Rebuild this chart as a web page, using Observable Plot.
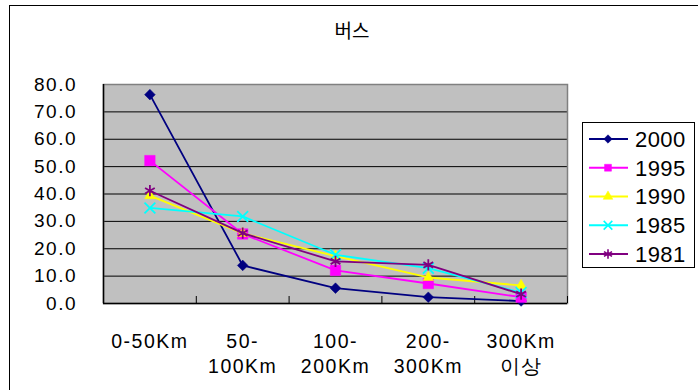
<!DOCTYPE html>
<html>
<head>
<meta charset="utf-8">
<script src="https://cdn.jsdelivr.net/npm/d3@7"></script>
<script src="https://cdn.jsdelivr.net/npm/@observablehq/plot@0.6"></script>
<style>
  html, body { margin: 0; padding: 0; background: #fff; overflow: hidden; }
  #wrap { position: relative; width: 698px; height: 390px; overflow: hidden; }
  #border { position: absolute; left: 9px; top: 5px; width: 720px; height: 420px; border: 1px solid #000; box-sizing: border-box; }
  #title { position: absolute; left: 252px; width: 200px; top: 16px; text-align: center;
           font-family: "Noto Sans CJK KR", sans-serif; font-size: 19px; line-height: 28px; color: #000; }
  #chart { position: absolute; left: 0; top: 0; }
  #chart svg text { letter-spacing: 1.5px; }
  #legend { position: absolute; left: 582px; top: 122px; width: 113px; height: 146px; box-sizing: border-box;
            border: 1px solid #000; background: #fff; }
</style>
</head>
<body>
<div id="wrap">
  <div id="border"></div>
  <div id="chart"></div>
  <div id="title">버스</div>
  <div id="legend"></div>
</div>
<script>
// ---- data ----
const categories = ["0-50Km", "50-100Km", "100-200Km", "200-300Km", "300Km 이상"];
const tickLabels = ["0-50Km", "50-\n100Km", "100-\n200Km", "200-\n300Km", "300Km\n이상"];
const years = ["2000", "1995", "1990", "1985", "1981"];
const v2000 = [76.3, 13.9, 5.6, 2.3, 0.9];
const v1995 = [52.2, 25.4, 12.1, 7.3, 2.3];
const v1990 = [39.4, 25.6, 17.3, 9.5, 6.6];
const v1985 = [34.9, 31.8, 17.8, 12.9, 4.0];
const v1981 = [41.2, 25.7, 15.4, 14.1, 3.4];
const yTicks = [0, 10, 20, 30, 40, 50, 60, 70, 80];

// ---- styles ----
const colors = ["#000080", "#FF00FF", "#FFFF00", "#00FFFF", "#800080"];
const symbols = ["diamond2", "square", "triangle", "times", "asterisk"];
const filled = [true, true, true, false, false];
const radii = [4.8, 5.9, 3.9, 5.0, 5.3];

const seriesValues = [v2000, v1995, v1990, v1985, v1981];
const idx = categories.map((_, i) => i);
const rows = years.flatMap((yr, s) => seriesValues[s].map((v, i) => ({year: yr, s, i, cat: categories[i], v})));
const bounds = idx.map(i => i + 0.5);

const seriesMarks = years.flatMap((yr, s) => {
  const d = rows.filter(r => r.s === s);
  return [
    Plot.line(d, {x: "i", y: "v", stroke: colors[s], strokeWidth: 1.8}),
    Plot.dot(d, filled[s]
      ? {x: "i", y: "v", symbol: symbols[s], r: radii[s], fill: colors[s], stroke: colors[s], strokeWidth: 0.5}
      : {x: "i", y: "v", symbol: symbols[s], r: radii[s], fill: "none", stroke: colors[s], strokeWidth: 1.8})
  ];
});

const chart = Plot.plot({
  width: 698,
  height: 390,
  marginLeft: 103,
  marginRight: 131,
  marginTop: 84,
  marginBottom: 87,
  style: {fontFamily: "'Liberation Sans', Arial, sans-serif", fontSize: "19px", color: "#000", background: "transparent"},
  x: {type: "linear", domain: [-0.5, 4.5], axis: null},
  y: {domain: [0, 80], axis: null},
  marks: [
    Plot.frame({fill: "#c0c0c0", stroke: "none"}),
    Plot.ruleY(yTicks, {stroke: "#000", strokeWidth: 1}),
    Plot.frame({stroke: "#808080", strokeWidth: 1.5}),
    Plot.ruleY([0], {stroke: "#000", strokeWidth: 1.5}),
    Plot.ruleX([-0.5], {stroke: "#000", strokeWidth: 1.5}),
    Plot.ruleX(bounds, {stroke: "#000", strokeWidth: 1, insetTop: 212}),
    Plot.axisY(yTicks, {tickSize: 0, tickPadding: 26.5, tickFormat: d => d.toFixed(1), fontSize: 19, label: null}),
    Plot.text(idx, {x: d => d, text: d => tickLabels[d], frameAnchor: "bottom", lineAnchor: "top",
                    dy: 26, lineHeight: 1.31, fontSize: 19.5, fill: "#000"}),
    ...seriesMarks
  ]
});
document.getElementById("chart").appendChild(chart);

// ---- legend ----
const lg = d3.select("#legend").append("svg").attr("width", 111).attr("height", 144)
  .style("display", "block");
const symMap = {diamond2: d3.symbolDiamond2, square: d3.symbolSquare, triangle: d3.symbolTriangle,
                times: d3.symbolTimes, asterisk: d3.symbolAsterisk};
const legendR = [3.8, 3.9, 3.6, 4.0, 4.4];
years.forEach((yr, s) => {
  const cy = 16 + s * 28.75;
  const g = lg.append("g").attr("transform", `translate(0,${cy})`);
  g.append("line").attr("x1", 6).attr("x2", 45).attr("y1", 0).attr("y2", 0)
    .attr("stroke", colors[s]).attr("stroke-width", 1.8);
  const path = d3.symbol(symMap[symbols[s]], Math.PI * legendR[s] * legendR[s])();
  g.append("path").attr("d", path).attr("transform", "translate(25,0)")
    .attr("fill", filled[s] ? colors[s] : "none").attr("stroke", colors[s])
    .attr("stroke-width", filled[s] ? 0.5 : 1.6);
  g.append("text").attr("x", 52).attr("y", 0).attr("dy", "0.36em").text(yr)
    .attr("font-family", "'Liberation Sans', Arial, sans-serif").attr("font-size", 22)
    .attr("letter-spacing", "0.4px").attr("fill", "#000");
});
</script>
</body>
</html>
